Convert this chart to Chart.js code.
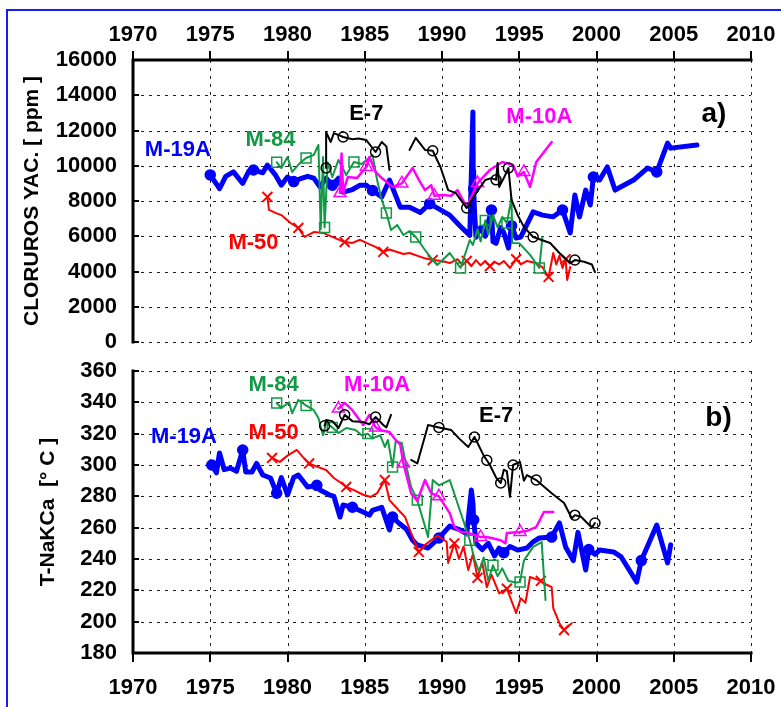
<!DOCTYPE html>
<html>
<head>
<meta charset="utf-8">
<script src="https://cdn.jsdelivr.net/npm/chart.js@4.4.1/dist/chart.umd.min.js"></script>
<style>
  html, body { margin: 0; padding: 0; background: #fff; }
  #wrap { position: relative; width: 781px; height: 707px; overflow: hidden; }
  #cA { position: absolute; left: 0; top: 0; }
  #cB { position: absolute; left: 0; top: 356px; }
  #frame { position: absolute; left: 6px; top: 9px; width: 800px; height: 720px;
           border: 2px solid #1a1aff; box-sizing: border-box; pointer-events: none; }
</style>
</head>
<body>
<div id="wrap">
  <canvas id="cA" width="781" height="356"></canvas>
  <canvas id="cB" width="781" height="351"></canvas>
  <div id="frame"></div>
</div>
<script>
'use strict';

/* ---- axes ---------------------------------------------------------------- */
const YEAR_MIN = 1970, YEAR_MAX = 2010, YEAR_STEP = 5;
const CL_MIN = 0, CL_MAX = 16000, CL_STEP = 2000;
const T_MIN = 180, T_MAX = 360, T_STEP = 20;

/* ---- a) chlorides, ppm  [year, value] ------------------------------------ */
const m19aCl = [[1975.0,9480],[1975.6,8700],[1976.0,9400],[1976.5,9650],[1977.1,9000],[1977.5,9700],[1977.8,9760],
  [1978.4,9600],[1978.7,10040],[1979.2,9500],[1979.6,8900],[1980.0,9360],[1980.4,9100],[1980.8,9250],[1981.3,9400],
  [1981.7,9300],[1982.1,8800],[1982.5,9300],[1982.9,8900],[1983.3,9300],[1983.6,8500],[1984.2,8650],[1984.7,8900],
  [1985.1,8900],[1985.5,8600],[1986.1,8230],[1986.6,9190],[1987.3,7650],[1987.9,7650],[1988.6,7350],[1989.2,7850],
  [1990.5,7200],[1991.2,6550],[1991.8,6050],[1992.0,13050],[1992.02,9700],[1992.05,8700],[1992.1,7500],[1992.2,5950],
  [1992.5,6500],[1992.8,6000],[1993.0,6800],[1993.2,7490],[1993.3,5700],[1993.5,5600],[1993.8,6500],[1994.0,6200],
  [1994.3,5330],[1994.5,6600],[1994.8,5900],[1995.1,5960],[1995.9,7380],[1996.5,7200],[1997.2,7100],[1997.8,7490],
  [1998.3,6190],[1998.6,8340],[1998.9,7100],[1999.3,8620],[1999.6,7770],[1999.8,9360],[2000.2,9190],[2000.7,9930],
  [2001.2,8620],[2002.4,9190],[2003.3,9870],[2003.9,9650],[2004.6,11290],[2004.8,11000],[2006.5,11180]];

const m50Cl = [[1978.7,8230],[1978.8,7500],[1979.3,7300],[1979.6,7200],[1980.2,6750],[1980.7,6470],[1981.1,5960],
  [1981.7,6240],[1982.3,6190],[1982.9,5960],[1983.7,5670],[1984.2,5620],[1984.7,5800],[1985.1,5620],[1985.7,5400],
  [1986.2,5110],[1986.6,5250],[1987.5,4990],[1987.9,5050],[1988.8,4770],[1989.4,4650],[1990.0,4600],[1990.5,4480],
  [1991.0,4700],[1991.3,4400],[1991.6,4600],[1991.9,4300],[1992.2,4650],[1992.5,4350],[1992.8,4600],[1993.1,4300],
  [1993.4,4550],[1993.7,4400],[1994.0,4600],[1994.4,4200],[1994.8,4700],[1995.1,4400],[1995.5,4600],[1996.0,4500],
  [1996.5,4250],[1996.9,3690],[1997.2,5050],[1997.4,4400],[1997.6,4900],[1997.8,4200],[1998.0,4700],[1998.1,3520],
  [1998.3,4250]];

const m84Cl = [[1979.3,10200],[1979.6,9870],[1980.0,10500],[1980.3,9650],[1980.8,10150],[1981.2,10440],[1981.7,10610],
  [1982.0,11180],[1982.15,6400],[1982.3,10500],[1982.4,6500],[1982.6,10200],[1982.9,9360],[1983.3,10330],[1983.8,9475],
  [1984.3,10210],[1984.8,10100],[1985.5,10610],[1985.8,9190],[1986.1,8060],[1986.4,7320],[1986.7,6350],[1987.1,6640],
  [1987.5,6070],[1987.9,6300],[1988.3,5960],[1988.9,5220],[1989.4,4650],[1989.7,4370],[1990.5,5050],[1991.2,4200],
  [1991.8,5790],[1992.0,5500],[1992.3,6400],[1992.5,5700],[1992.8,6900],[1993.0,6100],[1993.3,7200],[1993.6,6500],
  [1993.9,7100],[1994.2,6750],[1994.5,8170],[1994.55,5620],[1995.0,5600],[1995.7,4940],[1996.3,4200],[1996.5,5960]];

const m10aCl = [[1983.4,8450],[1983.5,10700],[1983.6,8500],[1983.9,9360],[1984.5,9300],[1985.1,9930],[1985.3,10500],
  [1985.7,9650],[1986.1,9300],[1986.8,8800],[1987.4,9000],[1988.1,9870],[1988.5,9200],[1988.9,8620],[1989.3,8900],
  [1989.5,8300],[1990.0,8340],[1990.6,8300],[1991.0,8620],[1991.6,7660],[1992.3,9020],[1993.1,9760],[1993.9,10210],
  [1994.6,10040],[1994.9,9400],[1995.3,9650],[1995.7,8800],[1996.1,10210],[1997.1,11350]];

const e7Cl = [[1982.5,9870],[1982.5,11900],[1982.8,11350],[1983.0,11850],[1983.6,11630],[1984.2,11500],[1984.6,11550],
  [1985.1,11460],[1985.7,10780],[1986.1,11350],[1986.4,11100],[1986.6,9760],[1987.2,null],
  [1987.9,10900],[1988.3,11580],[1988.9,10900],[1989.4,10850],[1989.9,9930],[1990.4,8620],[1990.9,8450],[1991.6,7600],
  [1992.2,8450],[1992.8,9190],[1993.2,9300],[1993.5,9200],[1993.6,10150],[1993.7,8800],[1994.0,9300],[1994.3,9870],
  [1994.5,8060],[1994.9,7200],[1995.3,6530],[1995.9,5960],[1997.0,5620],[1997.6,5050],[1998.3,4480],[1998.6,4650],
  [1999.2,4550],[1999.7,4400],[1999.9,3970]];

/* ---- b) T-NaKCa, °C  [year, value] --------------------------------------- */
const m19aT = [[1975.1,300],[1975.4,295],[1975.6,307.7],[1975.9,297],[1976.3,298],[1976.7,296],[1977.1,309.6],
  [1977.3,295.5],[1977.7,295.5],[1978.0,301],[1978.4,293.6],[1978.9,291.7],[1979.3,282],[1979.6,292],[1980.0,280.9],
  [1980.4,292],[1980.7,293.6],[1981.3,286],[1981.9,287],[1982.1,284],[1982.7,281],[1983.0,280],[1983.4,266.8],
  [1983.6,274.5],[1984.2,273],[1984.9,270],[1985.3,268],[1985.5,271],[1986.1,273],[1986.6,258.5],[1986.8,266.8],
  [1987.2,263],[1987.7,259],[1988.1,252],[1988.4,249],[1989.1,247],[1989.8,253.4],[1990.5,261],[1991.2,258.5],
  [1991.6,256],[1991.9,284],[1992.0,275.7],[1992.05,265],[1992.2,250],[1992.6,246],[1993.0,250],[1993.4,242],
  [1993.7,247],[1994.0,244],[1994.4,248],[1994.9,245.7],[1995.5,247],[1995.9,251],[1996.3,253.4],[1997.1,254],
  [1997.6,263],[1998.0,247.7],[1998.5,239],[1998.8,257],[1999.3,233],[1999.5,246],[1999.9,243],[2000.2,245.7],
  [2001.1,244.5],[2001.6,241.3],[2002.6,225.3],[2002.9,239],[2003.9,261.7],[2004.6,237.5],[2004.8,249]];

const m50T = [[1979.0,304.5],[1979.5,302],[1980.0,306],[1980.6,309.6],[1981.0,305],[1981.4,301],[1981.9,299],
  [1982.5,296.8],[1983.0,291.7],[1983.4,289],[1983.8,286],[1984.3,284],[1984.9,281],[1985.4,279.6],[1985.8,282],
  [1986.3,290.4],[1986.6,277.6],[1987.3,270],[1987.6,267],[1988.0,256.6],[1988.5,244.5],[1988.9,249],[1989.7,255],
  [1990.3,251],[1990.4,237.5],[1990.8,250],[1991.1,240],[1991.4,248],[1991.7,233],[1992.0,243],[1992.3,228],
  [1992.6,238],[1992.9,222],[1993.2,230],[1993.7,218],[1994.2,221],[1994.8,205.5],[1995.1,215],[1995.4,212],
  [1995.7,228.5],[1996.4,226],[1996.8,223.4],[1997.1,222],[1997.2,208.7],[1997.6,199],[1997.9,194.7],[1998.4,199]];

const m84T = [[1979.3,339.6],[1979.6,336.4],[1980.1,340],[1980.3,333],[1980.7,341.5],[1981.2,338],[1981.7,335],
  [1982.0,330],[1982.3,319],[1982.5,326.8],[1982.9,324],[1983.3,320.4],[1983.8,323.6],[1984.4,322.3],[1984.8,319],
  [1985.2,320],[1985.5,317],[1986.0,319],[1986.3,311.5],[1986.5,316],[1986.8,298.7],[1987.0,315],[1987.4,314],
  [1987.7,298.7],[1988.0,286],[1988.4,277.6],[1989.1,254],[1989.4,290.4],[1989.8,287],[1990.5,290.4],[1991.8,252],
  [1992.1,240],[1992.4,232],[1992.7,241],[1993.0,226],[1993.3,236],[1993.6,229],[1993.9,234],[1994.3,226],
  [1994.8,225],[1995.05,225.3],[1995.3,239],[1995.9,247.7],[1996.45,250.8],[1996.7,213.8]];

const m10aT = [[1983.3,336],[1983.7,339.6],[1984.2,335],[1984.9,325.5],[1985.3,332],[1985.7,324],[1986.1,322],
  [1986.6,321],[1987.0,316],[1987.3,313],[1987.5,301],[1988.0,282],[1988.4,277],[1988.9,290.4],[1989.3,282],
  [1989.8,280],[1990.5,269.3],[1990.8,260.4],[1991.2,257.3],[1991.6,257],[1992.5,254],[1992.9,254],[1993.8,252],
  [1994.1,250],[1994.2,256.6],[1995.05,257.3],[1995.5,258],[1996.1,260.4],[1996.6,270],[1997.2,270]];

const e7T = [[1982.4,325],[1982.5,328.7],[1982.9,328],[1983.3,323.6],[1983.7,332],[1984.2,328],[1984.9,327.4],
  [1985.3,326],[1985.7,330.6],[1986.2,325.5],[1986.4,324],[1986.7,332],[1987.3,null],
  [1988.0,303.2],[1988.4,301],[1989.1,325.5],[1989.8,324],[1990.6,322.3],[1991.1,317],[1991.7,311.5],[1992.1,317.9],
  [1992.3,314],[1992.5,310],[1992.7,306],[1992.9,303],[1993.1,300],[1993.3,296],[1993.5,292],[1993.8,288.5],
  [1994.0,297],[1994.2,296],[1994.4,279.6],[1994.6,300],[1995.05,302],[1995.3,290],[1995.5,293.6],[1996.1,290.4],
  [1997.1,282],[1997.9,275.7],[1998.4,266],[1998.6,268],[1999.0,267],[1999.4,263],[1999.7,260],[1999.9,263]];

/* ---- well name tags, placed in data units [text, year, value] ------------ */
const tagsA = [['M-19A',1972.9,10890],['M-84',1978.9,11460],['E-7',1985.1,12940],['M-10A',1996.3,12770],['M-50',1977.8,5620]];
const tagsB = [['M-19A',1973.3,317.9],['M-84',1979.1,351],['M-50',1979.1,320.4],['M-10A',1985.8,351],['E-7',1993.5,331.3]];

/* ---- styling ------------------------------------------------------------- */
const FONT = "'Liberation Sans', Arial, Helvetica, sans-serif";
const STYLE = {
  'M-19A': { color: '#0000ff', width: 5,   shape: 'circle',   r: 5, every: 6, filled: true,  order: 5 },
  'M-50':  { color: '#ff0000', width: 2,   shape: 'crossRot', r: 7, every: 5, filled: false, order: 4 },
  'M-84':  { color: '#119944', width: 2,   shape: 'rect',     r: 7, every: 5, filled: false, order: 3 },
  'M-10A': { color: '#ff00ff', width: 2.5, shape: 'triangle', r: 7, every: 5, filled: false, order: 2 },
  'E-7':   { color: '#000000', width: 2,   shape: 'circle',   r: 5, every: 4, filled: false, order: 1 },
};

function series(name, pts){
  const s = STYLE[name];
  return {
    label: name,
    data: pts.map(([x, y]) => ({ x, y })),
    borderColor: s.color, backgroundColor: s.color, borderWidth: s.width,
    borderJoinStyle: 'round', borderCapStyle: 'round', tension: 0, spanGaps: false,
    pointStyle: s.shape,
    pointRadius: (c) => (c.dataIndex % s.every === 0 ? s.r : 0),
    pointHoverRadius: 0,
    pointBorderColor: s.color, pointBorderWidth: s.shape === 'crossRot' ? 2 : 1.5,
    pointBackgroundColor: s.filled ? s.color : 'rgba(0,0,0,0)',
    order: s.order,
  };
}

/* dashed grid behind the data, solid axes + tick marks on top;
   every line sits on a tick of the chart's own x / y scales */
const frameLines = {
  id: 'frameLines',
  beforeDatasetsDraw(chart){
    const { ctx, chartArea: a, scales: { x, y } } = chart;
    ctx.save();
    ctx.strokeStyle = '#222'; ctx.lineWidth = 1; ctx.setLineDash([3, 5]);
    ctx.beginPath();
    for (const t of x.ticks){
      const px = Math.round(x.getPixelForValue(t.value)) + 0.5;
      ctx.moveTo(px, a.top); ctx.lineTo(px, a.bottom);
    }
    for (const t of y.ticks){
      const py = Math.round(y.getPixelForValue(t.value)) + 0.5;
      ctx.moveTo(a.left, py); ctx.lineTo(a.right, py);
    }
    ctx.stroke();
    ctx.restore();
  },
  afterDatasetsDraw(chart, args, opts){
    const { ctx, chartArea: a, scales: { x, y } } = chart;
    const top = opts.xOnTop;
    const edge = top ? a.top : a.bottom;
    const out = top ? -9 : 9;
    ctx.save();
    ctx.setLineDash([]);
    ctx.strokeStyle = '#000';
    ctx.lineWidth = 3; ctx.lineCap = 'square';
    ctx.beginPath();
    ctx.moveTo(a.left, a.top); ctx.lineTo(a.left, a.bottom);        // y axis
    ctx.moveTo(a.left, edge); ctx.lineTo(a.right, edge);            // x axis
    ctx.stroke();
    ctx.lineWidth = 2; ctx.lineCap = 'butt';
    ctx.beginPath();
    for (const t of x.ticks){                                          // x ticks, outward
      const px = Math.round(x.getPixelForValue(t.value));
      ctx.moveTo(px, edge); ctx.lineTo(px, edge + out);
    }
    for (const t of y.ticks){                                          // y ticks, inward
      const py = Math.round(y.getPixelForValue(t.value));
      ctx.moveTo(a.left, py); ctx.lineTo(a.left + 6, py);
    }
    ctx.stroke();
    ctx.restore();
  }
};

/* text tags drawn through the chart's own scales */
const tagPlugin = {
  id: 'tags',
  afterDatasetsDraw(chart, args, opts){
    const { ctx, scales: { x, y } } = chart;
    ctx.save();
    ctx.textAlign = 'center'; ctx.textBaseline = 'middle';
    for (const [text, tx, ty] of opts.items){
      ctx.font = 'bold 22px ' + FONT;
      ctx.fillStyle = (STYLE[text] || {}).color || '#000';
      ctx.fillText(text, x.getPixelForValue(tx), y.getPixelForValue(ty));
    }
    ctx.font = 'bold 28px ' + FONT;
    ctx.fillStyle = '#000';
    ctx.fillText(opts.panel, x.getPixelForValue(opts.panelAt[0]), y.getPixelForValue(opts.panelAt[1]));
    ctx.restore();
  }
};

function xAxis(position, height, pad){
  return {
    type: 'linear', position, min: YEAR_MIN, max: YEAR_MAX,
    ticks: { stepSize: YEAR_STEP, autoSkip: false, maxRotation: 0, color: '#000', padding: pad,
             font: { family: FONT, size: 22, weight: 'bold' }, callback: (v) => String(v) },
    grid: { display: false, drawTicks: false },
    border: { display: false },
    afterFit: (s) => { s.height = height; s.paddingLeft = 0; s.paddingRight = 0; },
  };
}
function yAxis(min, max, step, title, titleSize, titlePad){
  return {
    type: 'linear', min, max,
    ticks: { stepSize: step, color: '#000', padding: 16,
             font: { family: FONT, size: 22, weight: 'bold' }, callback: (v) => String(v) },
    grid: { display: false, drawTicks: false },
    border: { display: false },
    title: { display: true, text: title, color: '#000', padding: { top: titlePad, bottom: 0 },
             font: { family: FONT, size: titleSize, weight: 'bold' } },
    afterFit: (s) => { s.width = 123; s.paddingTop = 0; s.paddingBottom = 0; },
  };
}

function base(padding, x, y, xOnTop, tags, panel, panelAt){
  return {
    responsive: false, animation: false, devicePixelRatio: 1,
    layout: { padding },
    events: [],
    scales: { x, y },
    plugins: { legend: { display: false }, tooltip: { enabled: false },
               frameLines: { xOnTop },
               tags: { items: tags, panel, panelAt } },
  };
}

new Chart(document.getElementById('cA'), {
  type: 'line',
  data: { datasets: [ series('E-7', e7Cl), series('M-10A', m10aCl), series('M-84', m84Cl),
                      series('M-50', m50Cl), series('M-19A', m19aCl) ] },
  options: base({ left: 10, right: 30, top: 0, bottom: 14 },
                xAxis('top', 60, 12),
                yAxis(CL_MIN, CL_MAX, CL_STEP, 'CLORUROS YAC. [ ppm ]', 21, 10),
                true, tagsA, 'a)', [2007.6, 12940]),
  plugins: [frameLines, tagPlugin],
});

new Chart(document.getElementById('cB'), {
  type: 'line',
  data: { datasets: [ series('E-7', e7T), series('M-10A', m10aT), series('M-84', m84T),
                      series('M-50', m50T), series('M-19A', m19aT) ] },
  options: base({ left: 10, right: 30, top: 15, bottom: 0 },
                xAxis('bottom', 54, 22),
                yAxis(T_MIN, T_MAX, T_STEP, 'T-NaKCa  [° C ]', 21, 26),
                false, tagsB, 'b)', [2007.9, 330]),
  plugins: [frameLines, tagPlugin],
});
</script>
</body>
</html>
